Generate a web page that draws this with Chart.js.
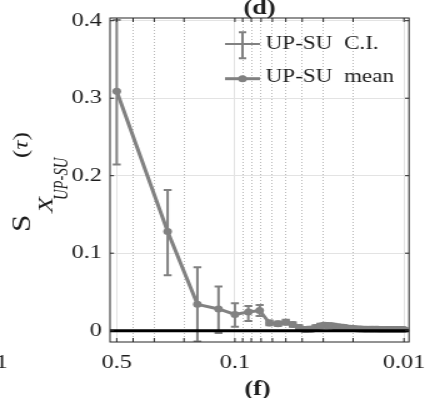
<!DOCTYPE html>
<html>
<head>
<meta charset="utf-8">
<script src="https://cdn.jsdelivr.net/npm/chart.js@4/dist/chart.umd.min.js"></script>
<style>
  html, body { margin: 0; padding: 0; background: #fff; overflow: hidden; }
  /* the serif type of this figure is set wide: the canvas is laid out narrower and widened */
  #wrap { width: 340px; height: 398px; transform: scaleX(1.25); transform-origin: 0 0; }
  canvas { display: block; }
</style>
</head>
<body>
<div id="wrap"><canvas id="chart" width="340" height="398"></canvas></div>
<script>
// lag tau (log axis, decreasing to the right)
const tau = [0.5, 0.25, 0.1667, 0.125, 0.1, 0.0833, 0.0714, 0.0625, 0.0556, 0.05,
  0.0455, 0.0417, 0.0385, 0.0357, 0.0333, 0.03125, 0.0294, 0.0278, 0.0263, 0.025,
  0.0238, 0.0227, 0.0217, 0.0208, 0.02, 0.0192, 0.0185, 0.0179, 0.0172, 0.0167,
  0.0161, 0.0156, 0.0152, 0.0147, 0.0143, 0.0139, 0.0135, 0.0132, 0.0128, 0.0125,
  0.0122, 0.0119, 0.0116, 0.0114, 0.0111, 0.0109, 0.0106, 0.0104, 0.0102, 0.01];

// UP-SU mean index
const meanS = [0.309, 0.128, 0.034, 0.028, 0.021, 0.024, 0.026, 0.010, 0.009, 0.011,
  0.008, 0.004, 0.0015, 0.002, 0.004, 0.006, 0.007, 0.0065, 0.006, 0.005,
  0.0045, 0.004, 0.0035, 0.003, 0.0028, 0.0025, 0.0023, 0.0022, 0.002, 0.002,
  0.0018, 0.0018, 0.0018, 0.0018, 0.0018, 0.0016, 0.0016, 0.0016, 0.0016, 0.0016,
  0.0015, 0.0015, 0.0015, 0.0015, 0.0015, 0.0015, 0.0015, 0.0015, 0.0015, 0.0015];

// UP-SU confidence interval bounds
const ciLow = [0.2145, 0.0715, -0.014, -0.003, 0.005, 0.0125, 0.019, 0.007, 0.006, 0.008,
  0.005, 0.001, -0.0015, -0.001, 0.001, 0.003, 0.004, 0.0035, 0.003, 0.002,
  0.0015, 0.001, 0.001, 0.0005, 0.0005, 0.0005, 0.0003, 0.0002, 0.0, 0.0,
  -0.0002, -0.0002, -0.0002, -0.0002, -0.0002, -0.0004, -0.0004, -0.0004, -0.0004, -0.0004,
  -0.0005, -0.0005, -0.0005, -0.0005, -0.0005, -0.0005, -0.0005, -0.0005, -0.0005, -0.0005];
const ciHigh = [0.401, 0.1815, 0.0818, 0.057, 0.0354, 0.032, 0.033, 0.013, 0.012, 0.014,
  0.011, 0.007, 0.0045, 0.005, 0.007, 0.009, 0.010, 0.0095, 0.009, 0.008,
  0.0075, 0.007, 0.006, 0.0055, 0.005, 0.0045, 0.0043, 0.0042, 0.004, 0.004,
  0.0038, 0.0038, 0.0038, 0.0038, 0.0038, 0.0036, 0.0036, 0.0036, 0.0036, 0.0036,
  0.0035, 0.0035, 0.0035, 0.0035, 0.0035, 0.0035, 0.0035, 0.0035, 0.0035, 0.0035];

const xMajorTicks = [0.5, 0.1, 0.01];
const xMinorTicks = [0.4, 0.3, 0.2, 0.09, 0.08, 0.07, 0.06, 0.05, 0.04, 0.03, 0.02];
const yTicks = [0, 0.1, 0.2, 0.3, 0.4];
const seriesNames = ['UP-SU  C.I.', 'UP-SU  mean'];
const panelTitle = '(d)';
const panelBelow = '(f)';
const neighbourTick = '1';

const X_MIN = 0.00934, X_MAX = 0.548;
const Y_MIN = -0.0146, Y_MAX = 0.4035;

const GRAY = '#818181';
const INK = '#1c1c1c';
const AXIS = '#262626';
const FONT = "'Liberation Serif', 'Times New Roman', serif";
const SX = 1.25;           // CSS widening of the canvas
const TICK_PX = 19.5;

// vertical confidence-interval bars with caps
const errorBars = {
  id: 'errorBars',
  beforeDatasetsDraw(chart) {
    const { ctx, chartArea: a, scales: { x, y } } = chart;
    ctx.save();
    ctx.beginPath();
    ctx.rect(a.left, a.top, a.right - a.left, a.bottom - a.top);
    ctx.clip();
    ctx.strokeStyle = GRAY;
    ctx.lineWidth = 2;
    tau.forEach((t, i) => {
      const px = x.getPixelForValue(t);
      const y1 = y.getPixelForValue(ciLow[i]);
      const y2 = y.getPixelForValue(ciHigh[i]);
      ctx.beginPath();
      ctx.moveTo(px, y1); ctx.lineTo(px, y2);
      ctx.moveTo(px - 3.2, y1); ctx.lineTo(px + 3.2, y1);
      ctx.moveTo(px - 3.2, y2); ctx.lineTo(px + 3.2, y2);
      ctx.stroke();
    });
    ctx.restore();
  }
};

// zero reference line, axes box and inward tick marks
const frame = {
  id: 'frame',
  afterDatasetsDraw(chart) {
    const { ctx, chartArea: a, scales: { x, y } } = chart;
    ctx.save();
    const y0 = y.getPixelForValue(0);
    ctx.strokeStyle = '#000';
    ctx.lineWidth = 3;
    ctx.beginPath(); ctx.moveTo(a.left, y0); ctx.lineTo(a.right, y0); ctx.stroke();

    ctx.strokeStyle = AXIS;
    ctx.lineWidth = 1;
    ctx.strokeRect(a.left, a.top, a.right - a.left, a.bottom - a.top);
    ctx.beginPath();
    [...xMajorTicks, ...xMinorTicks].forEach(v => {
      const px = x.getPixelForValue(v);
      ctx.moveTo(px, a.bottom); ctx.lineTo(px, a.bottom - 4);
      ctx.moveTo(px, a.top); ctx.lineTo(px, a.top + 4);
    });
    yTicks.forEach(v => {
      const py = y.getPixelForValue(v);
      ctx.moveTo(a.left, py); ctx.lineTo(a.left + 3.2, py);
      ctx.moveTo(a.right, py); ctx.lineTo(a.right - 3.2, py);
    });
    ctx.stroke();
    ctx.restore();
  }
};

// rotated text piece running upwards; sizes given in screen pixels
function drawUp(ctx, text, font, startY, baseX, along) {
  ctx.save();
  ctx.translate(baseX / SX, startY);
  ctx.rotate(-Math.PI / 2);
  ctx.scale(along, 1 / SX);
  ctx.font = font;
  ctx.textAlign = 'left';
  ctx.textBaseline = 'alphabetic';
  ctx.fillText(text, 0, 0);
  const w = ctx.measureText(text).width * along;
  ctx.restore();
  return w;
}

// axis label, legend and panel letters
const annotations = {
  id: 'annotations',
  afterDraw(chart) {
    const { ctx, chartArea: a } = chart;
    ctx.save();
    ctx.fillStyle = INK;

    // S_{X_{UP-SU}} (tau)
    drawUp(ctx, 'S', `25px ${FONT}`, 232, 30, 1.25);
    drawUp(ctx, 'X', `italic 22px ${FONT}`, 213, 52, 1.2);
    drawUp(ctx, 'UP-SU', `italic 21px ${FONT}`, 200, 67, 0.7);
    let yy = 158;
    yy -= drawUp(ctx, '(', `21px ${FONT}`, yy, 28, 1.2);
    yy -= drawUp(ctx, '\u03C4', `italic 21px ${FONT}`, yy, 28, 1.2);
    drawUp(ctx, ')', `21px ${FONT}`, yy, 28, 1.2);

    // legend
    ctx.strokeStyle = GRAY;
    ctx.fillStyle = GRAY;
    ctx.lineWidth = 2;
    ctx.beginPath();
    ctx.moveTo(180, 44); ctx.lineTo(208, 44);
    ctx.moveTo(194, 32.3); ctx.lineTo(194, 58.3);
    ctx.moveTo(191, 32.3); ctx.lineTo(197, 32.3);
    ctx.moveTo(191, 58.3); ctx.lineTo(197, 58.3);
    ctx.stroke();
    ctx.lineWidth = 3;
    ctx.beginPath(); ctx.moveTo(180, 78.7); ctx.lineTo(208, 78.7); ctx.stroke();
    ctx.beginPath(); ctx.arc(194, 78.7, 3.5, 0, Math.PI * 2); ctx.fill();

    ctx.fillStyle = INK;
    ctx.font = `18.5px ${FONT}`;
    ctx.textAlign = 'left';
    ctx.textBaseline = 'alphabetic';
    ctx.fillText(seriesNames[0], 212.5, 49.3);
    ctx.fillText(seriesNames[1], 212.5, 81.7);

    // panel letters
    const cx = (a.left + a.right) / 2;
    ctx.font = `bold 21px ${FONT}`;
    ctx.textAlign = 'center';
    ctx.fillText(panelTitle, cx, 13.5);
    ctx.fillText(panelBelow, cx - 1.5, 394.5);

    // tick label of the neighbouring panel at the left edge
    ctx.font = `${TICK_PX}px ${FONT}`;
    ctx.textAlign = 'left';
    ctx.textBaseline = 'middle';
    ctx.fillText(neighbourTick, -3.6, 362.4);
    ctx.restore();
  }
};

new Chart(document.getElementById('chart'), {
  type: 'line',
  data: {
    datasets: [{
      label: seriesNames[1],
      data: tau.map((t, i) => ({ x: t, y: meanS[i] })),
      borderColor: GRAY,
      backgroundColor: GRAY,
      borderWidth: 3,
      pointRadius: 3.5,
      pointBorderWidth: 0,
      pointBackgroundColor: GRAY,
      tension: 0
    }]
  },
  options: {
    responsive: false,
    animation: false,
    devicePixelRatio: 1,
    layout: { padding: { left: 0, right: 12.8, top: 18, bottom: 0 } },
    plugins: { legend: { display: false }, tooltip: { enabled: false } },
    scales: {
      x: {
        type: 'logarithmic', position: 'bottom', reverse: true, bounds: 'data',
        min: X_MIN, max: X_MAX,
        afterBuildTicks: s => { s.ticks = xMajorTicks.map(v => ({ value: v })); },
        afterFit: s => { s.height = 56; s.paddingLeft = 0; s.paddingRight = 0; },
        ticks: { autoSkip: false, maxRotation: 0, padding: 9, color: INK,
          font: { family: FONT, size: TICK_PX }, callback: v => String(v) },
        grid: { color: '#e3e3e3', lineWidth: 1, drawTicks: false },
        border: { display: false }
      },
      x2: {
        type: 'logarithmic', axis: 'x', position: 'top', reverse: true, bounds: 'data',
        min: X_MIN, max: X_MAX,
        afterBuildTicks: s => { s.ticks = xMinorTicks.map(v => ({ value: v })); },
        afterFit: s => { s.height = 0; s.paddingLeft = 0; s.paddingRight = 0; },
        ticks: { display: false },
        grid: { color: '#b8b8b8', lineWidth: 1, drawTicks: false },
        border: { display: false, dash: [1, 2] }
      },
      y: {
        type: 'linear', min: Y_MIN, max: Y_MAX,
        afterBuildTicks: s => { s.ticks = yTicks.map(v => ({ value: v })); },
        afterFit: s => { s.width = 88; s.paddingTop = 0; s.paddingBottom = 0; },
        ticks: { padding: 6.5, color: INK, font: { family: FONT, size: TICK_PX },
          callback: v => String(v) },
        grid: { color: '#e3e3e3', lineWidth: 1, drawTicks: false },
        border: { display: false }
      }
    }
  },
  plugins: [errorBars, frame, annotations]
});
</script>
</body>
</html>
